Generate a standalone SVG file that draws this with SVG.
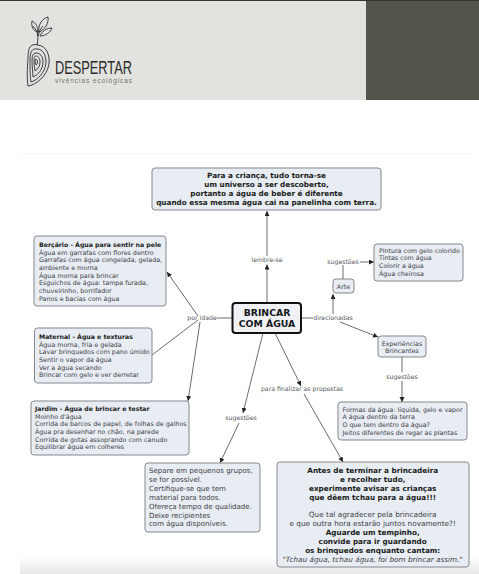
<svg xmlns="http://www.w3.org/2000/svg" width="479" height="574" viewBox="0 0 479 574">
<defs>
<linearGradient id="fade" x1="0" y1="0" x2="0" y2="1"><stop offset="0" stop-color="#fff"/><stop offset="1" stop-color="#e6e6e6"/></linearGradient>
<marker id="arr" markerWidth="6" markerHeight="6" refX="5" refY="2.500" orient="auto" markerUnits="userSpaceOnUse"><path d="M0 0L5 2.500L0 5Z" fill="#222"/></marker>
</defs>
<style>
text{font-family:"DejaVu Sans","Liberation Sans",sans-serif;fill:#3f4246}
.box{fill:#e8ecf3;stroke:#85878a;stroke-width:1}
.t{font-size:6.35px}
.h{font-size:6.2px;font-weight:bold;fill:#1a1c20}
.b{font-size:7.25px;font-weight:bold;fill:#1a1c20}
.m{font-size:7.05px}
.a{font-size:7.3px}
.c{text-anchor:middle}
.l{font-size:6.2px;text-anchor:middle;fill:#55575b}
.lk{fill:none;stroke:#6a6b6e;stroke-width:1}
.ar{marker-end:url(#arr)}
.logo{fill:none;stroke:#2b2b2b;stroke-width:.9}
</style>
<rect width="479" height="574" fill="#fff"/>
<g id="header">
<rect width="366" height="100" fill="#e2e3df"/>
<rect x="366" width="113" height="100" fill="#54564d"/>
<rect width="479" height="1" fill="#34362f"/>
<rect x="20" y="153" width="452" height="1" fill="#f6f6f6"/>
<rect x="20" y="556" width="459" height="18" fill="url(#fade)"/>
<g id="logo">
<path class="logo" d="M38 45C30 43 28 48 28 58C27 70 27 80 28 86C36 85 47 76 49 64C50 54 46 46 38 45Z"/>
<path class="logo" d="M37 49C32 48 30 52 30 60C30 70 30 76 31 82C38 80 45 72 46 63C46 55 43 49 37 49Z"/>
<path class="logo" d="M36 53C33 53 32 56 32 61C32 68 33 72 33 77C38 75 43 69 43 62C43 56 40 53 36 53Z"/>
<path class="logo" d="M36 56C34 56 34 59 34 62C34 66 35 69 35 71C38 69 40 66 40 62C40 58 38 56 36 56Z"/>
<path class="logo" d="M36 59C35 60 35 62 36 65C38 64 38 60 36 59Z"/>
<path class="logo" d="M37 45C38 40 38 35 38 30M38 36C37 31 35 28 33 26M38 36C39 32 41 28 43 26"/>
<path class="logo" d="M38 32C33 31 31 26 32 21C36 23 38 27 38 32ZM39 32C38 26 41 19 48 17C49 23 45 30 39 32ZM40 36C42 31 47 28 52 28C50 33 45 36 40 36Z"/>
</g>
<text x="55" y="73.500" font-size="18" textLength="77" lengthAdjust="spacingAndGlyphs" style="font-family:'Liberation Sans',sans-serif;fill:#2b2b2b">DESPERTAR</text>
<text x="55" y="83" font-size="6.400" textLength="77" style="font-family:'Liberation Sans',sans-serif;fill:#6e706c">vivências ecológicas</text>
</g>
<g id="connectors">
<path class="lk ar" d="M267 303V264.500"/>
<path class="lk ar" d="M267 256V211"/>
<path class="lk" d="M232 318H217"/>
<path class="lk ar" d="M198 316L167 272"/>
<path class="lk" d="M198 320L152 355"/>
<path class="lk ar" d="M200 322L188 401"/>
<path class="lk" d="M301 318H313"/>
<path class="lk ar" d="M333 314V294"/>
<path class="lk ar" d="M340 322L378 337"/>
<path class="lk" d="M343 279V265"/>
<path class="lk ar" d="M360 262H374"/>
<path class="lk" d="M402 357V372"/>
<path class="lk ar" d="M402 381V402"/>
<path class="lk ar" d="M275 333L301 386"/>
<path class="lk ar" d="M304 394L343 462"/>
<path class="lk ar" d="M263 333L243 413"/>
<path class="lk ar" d="M239 423L220 463"/>
</g>
<g id="labels">
<text class="l" x="267" y="262">lembre-se</text>
<text class="l" x="202" y="320">por idade</text>
<text class="l" x="333" y="320">direcionadas</text>
<text class="l" x="343" y="263.500">sugestões</text>
<text class="l" x="402" y="378.500">sugestões</text>
<text class="l" x="302" y="391">para finalizar as propostas</text>
<text class="l" x="241" y="420">sugestões</text>
</g>
<g id="n-topo">
<rect class="box" x="152" y="168" width="229" height="42" rx="3"/>
<text class="b c" x="266.500" y="178.300">Para a criança, tudo torna-se</text>
<text class="b c" x="266.500" y="187.100">um universo a ser descoberto,</text>
<text class="b c" x="266.500" y="195.900">portanto a água de beber é diferente</text>
<text class="b c" x="266.500" y="204.700">quando essa mesma água cai na panelinha com terra.</text>
</g>
<g id="n-bercario">
<rect class="box" x="34" y="236" width="132" height="70" rx="3"/>
<text class="h" x="39" y="247">Berçário - Água para sentir na pele</text>
<text class="t" x="39" y="254.700">Água em garrafas com flores dentro</text>
<text class="t" x="39" y="262.300">Garrafas com água congelada, gelada,</text>
<text class="t" x="39" y="270">ambiente e morna</text>
<text class="t" x="39" y="277.700">Água morna para brincar</text>
<text class="t" x="39" y="285.300">Esguichos de água: tampa furada,</text>
<text class="t" x="39" y="293">chuveirinho, borrifador</text>
<text class="t" x="39" y="300.700">Panos e bacias com água</text>
</g>
<g id="n-maternal">
<rect class="box" x="34.500" y="328" width="117.500" height="55" rx="3"/>
<text class="h" x="39" y="339">Maternal - Água e texturas</text>
<text class="t" x="39" y="346.700">Água morna, fria e gelada</text>
<text class="t" x="39" y="354.300">Lavar brinquedos com pano úmido</text>
<text class="t" x="39" y="362">Sentir o vapor da água</text>
<text class="t" x="39" y="369.700">Ver a água secando</text>
<text class="t" x="39" y="377.300">Brincar com gelo e ver derretar</text>
</g>
<g id="n-jardim">
<rect class="box" x="31" y="401" width="158" height="54" rx="3"/>
<text class="h" x="35" y="411">Jardim - Água de brincar e testar</text>
<text class="t" x="35" y="418.700">Moinho d'água</text>
<text class="t" x="35" y="426.300">Corrida de barcos de papel, de folhas de galhos</text>
<text class="t" x="35" y="434">Água pra desenhar no chão, na parede</text>
<text class="t" x="35" y="441.700">Corrida de gotas assoprando com canudo</text>
<text class="t" x="35" y="449.300">Equilibrar água em colheres</text>
</g>
<g id="n-central">
<rect x="232.500" y="303" width="68.500" height="30" rx="3" fill="#f0f1f4" stroke="#111" stroke-width="2"/>
<text class="c" x="267" y="315.600" font-size="9.300" font-weight="bold" style="fill:#15171a">BRINCAR</text>
<text class="c" x="267" y="326.700" font-size="9.300" font-weight="bold" style="fill:#15171a">COM ÁGUA</text>
</g>
<g id="n-arte">
<rect class="box" x="333" y="279" width="21" height="14" rx="3"/>
<text class="t c" x="343.500" y="288.500">Arte</text>
</g>
<g id="n-pintura">
<rect class="box" x="374" y="244" width="89" height="37" rx="3"/>
<text class="t" x="379" y="252.700">Pintura com gelo colorido</text>
<text class="t" x="379" y="260.400">Tintas com água</text>
<text class="t" x="379" y="268">Colorir a água</text>
<text class="t" x="379" y="275.700">Água cheirosa</text>
</g>
<g id="n-experiencias">
<rect class="box" x="378" y="336" width="48" height="21" rx="3"/>
<text class="t c" x="402" y="345.500">Experiências</text>
<text class="t c" x="402" y="353.400">Brincantes</text>
</g>
<g id="n-formas">
<rect class="box" x="338" y="402" width="129" height="38" rx="3"/>
<text class="t" x="342.500" y="411.500">Formas da água: líquida, gelo e vapor</text>
<text class="t" x="342.500" y="419.200">A água dentro da terra</text>
<text class="t" x="342.500" y="426.900">O que tem dentro da água?</text>
<text class="t" x="342.500" y="434.500">Jeitos diferentes de regar as plantas</text>
</g>
<g id="n-separe">
<rect class="box" x="145" y="463" width="115" height="69" rx="3"/>
<text class="m" x="149" y="473.300">Separe em pequenos grupos,</text>
<text class="m" x="149" y="482.200">se for possível.</text>
<text class="m" x="149" y="491">Certifique-se que tem</text>
<text class="m" x="149" y="499.900">material para todos.</text>
<text class="m" x="149" y="508.700">Ofereça tempo de qualidade.</text>
<text class="m" x="149" y="517.600">Deixe recipientes</text>
<text class="m" x="149" y="526.400">com água disponíveis.</text>
</g>
<g id="n-antes">
<rect class="box" x="277" y="462" width="192" height="105" rx="3"/>
<text class="b c" x="372.700" y="472.600">Antes de terminar a brincadeira</text>
<text class="b c" x="372.700" y="481.500">e recolher tudo,</text>
<text class="b c" x="372.700" y="490.500">experimente avisar as crianças</text>
<text class="b c" x="372.700" y="499.500">que dêem tchau para a água!!!</text>
<text class="a c" x="372.700" y="517">Que tal agradecer pela brincadeira</text>
<text class="a c" x="372.700" y="526">e que outra hora estarão juntos novamente?!</text>
<text class="b c" x="372.700" y="535">Aguarde um tempinho,</text>
<text class="b c" x="372.700" y="544">convide para ir guardando</text>
<text class="b c" x="372.700" y="553">os brinquedos enquanto cantam:</text>
<text class="a c" x="372.700" y="562" font-style="italic">"Tchau água, tchau água, foi bom brincar assim."</text>
</g>
</svg>
